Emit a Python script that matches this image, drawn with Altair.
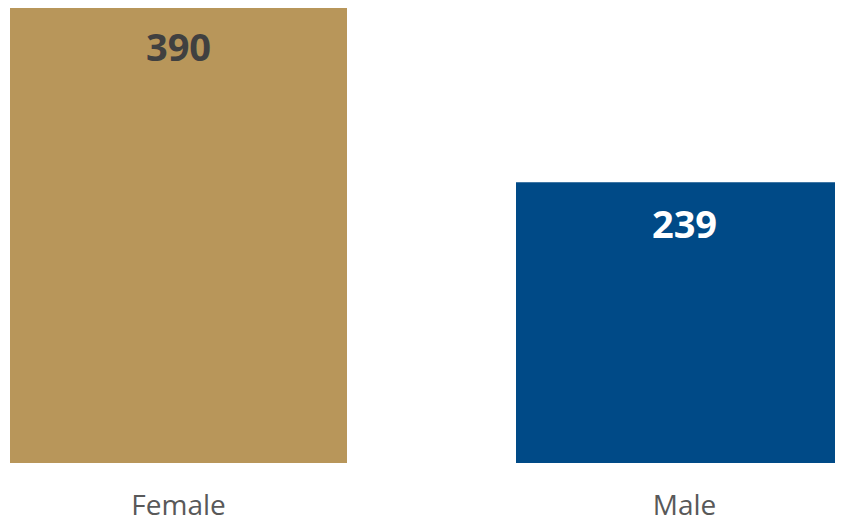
import altair as alt
import pandas as pd

categories = ["Female", "Male"]
values = [390, 239]

df = pd.DataFrame({"gender": categories, "count": values})

bar_colors = ["#B8965A", "#004A87"]
text_colors = ["#404040", "#FFFFFF"]

x_axis = alt.Axis(
    labelAngle=0,
    domain=False,
    ticks=False,
    grid=False,
    labelFont="Open Sans",
    labelFontSize=28,
    labelColor="#595959",
    labelBaseline="alphabetic",
    labelPadding=51,
)
x_scale = alt.Scale(range=[2, 845], paddingInner=0.334, paddingOuter=0)
y_scale = alt.Scale(domain=[0, 390], range=[455, -3], nice=False, zero=True)

bars = alt.Chart(df).mark_bar().encode(
    x=alt.X("gender:N", sort=categories, title=None, scale=x_scale, axis=x_axis),
    y=alt.Y("count:Q", title=None, axis=None, scale=y_scale),
    color=alt.Color("gender:N", scale=alt.Scale(domain=categories, range=bar_colors), legend=None),
)

labels = alt.Chart(df).mark_text(
    font="Open Sans",
    fontSize=38,
    fontWeight="bold",
    baseline="alphabetic",
    align="center",
    dy=56,
).encode(
    x=alt.X("gender:N", sort=categories, title=None, scale=x_scale, axis=x_axis),
    y=alt.Y("count:Q", title=None, axis=None, scale=y_scale),
    text=alt.Text("count:Q"),
    color=alt.Color("gender:N", scale=alt.Scale(domain=categories, range=text_colors), legend=None),
)

chart = (
    alt.layer(bars, labels)
    .resolve_scale(color="independent")
    .properties(
        width=827,
        height=455,
        background="white",
        autosize=alt.AutoSizeParams(type="none"),
        padding={"left": 0, "top": 0, "right": 0, "bottom": 58},
    )
    .configure_view(stroke=None, strokeWidth=0)
    .configure_axis(domain=False, grid=False, ticks=False)
)

chart.save("out.html", embed_options={"renderer": "svg", "actions": False})
